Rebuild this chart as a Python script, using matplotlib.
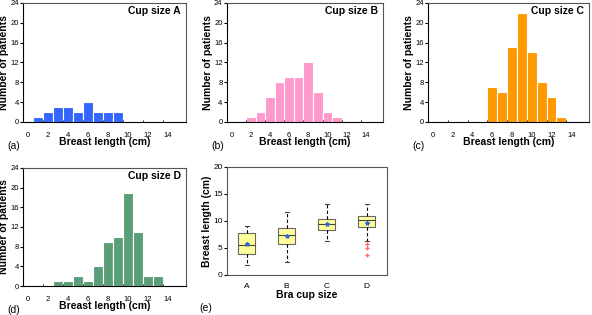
import numpy as np
import matplotlib
matplotlib.use('Agg')
import matplotlib.pyplot as plt

plt.rcParams['font.family'] = ['Liberation Sans', 'DejaVu Sans']

# histogram data (bin centres in cm, counts)
lengthsA = [1, 2, 3, 4, 5, 6, 7, 8, 9]
countsA = [1, 2, 3, 3, 2, 4, 2, 2, 2]
lengthsB = [2, 3, 4, 5, 6, 7, 8, 9, 10, 11]
countsB = [1, 2, 5, 8, 9, 9, 12, 6, 2, 1]
lengthsC = [6, 7, 8, 9, 10, 11, 12, 13]
countsC = [7, 6, 15, 22, 14, 8, 5, 1]
lengthsD = [3, 4, 5, 6, 7, 8, 9, 10, 11, 12, 13]
countsD = [1, 1, 2, 1, 4, 9, 10, 19, 11, 2, 2]

# box plot data
cupSizes = ['A', 'B', 'C', 'D']
whiskLow = [1.9, 2.4, 6.3, 6.3]
q1 = [3.9, 5.8, 8.4, 8.8]
medians = [5.5, 7.4, 9.4, 10.1]
q3 = [7.7, 8.7, 10.3, 11.0]
whiskHigh = [9.0, 11.6, 13.1, 13.1]
means = [5.7, 7.2, 9.4, 9.7]
outliers = [[], [], [], [5.7, 5.0, 3.7]]

fig = plt.figure(figsize=(5.92, 3.15), dpi=100)

def histPanel(pos, x, y, color, title, tag):
    ax = fig.add_axes(pos)
    ax.bar(x, y, width=1.0, color=color, edgecolor='white', linewidth=0.8)
    ax.set_xlim(-0.5, 15.8)
    ax.set_ylim(0, 24)
    ax.set_yticks(np.arange(0, 25, 4))
    ax.set_xticks(np.arange(0, 15, 2))
    ax.set_xticks(np.arange(1.5, 15, 2), minor=True)
    ax.tick_params(axis='x', which='major', length=0, pad=7, labelsize=5.5)
    ax.tick_params(axis='x', which='minor', length=1.5, direction='in')
    ax.tick_params(axis='y', length=2, pad=1, labelsize=5.5)
    for s in ax.spines.values():
        s.set_linewidth(0.8)
        s.set_color('#555555')
    ax.spines['left'].set_color('black')
    ax.spines['bottom'].set_color('black')
    ax.set_xlabel('Breast length (cm)', fontsize=7.5, fontweight='bold', labelpad=-1)
    ax.set_ylabel('Number of patients', fontsize=7.5, fontweight='bold', labelpad=1)
    ax.text(0.97, 0.93, title, transform=ax.transAxes, ha='right', va='center',
            fontsize=7.5, fontweight='bold')
    ax.text(-0.06, -0.2, tag, transform=ax.transAxes, ha='center', va='center', fontsize=7.5)
    return ax

histPanel([0.039, 0.613, 0.275, 0.378], lengthsA, countsA, '#3366ff', 'Cup size A', '(a)')
histPanel([0.383, 0.613, 0.264, 0.378], lengthsB, countsB, '#ff99cc', 'Cup size B', '(b)')
histPanel([0.723, 0.613, 0.272, 0.378], lengthsC, countsC, '#ff9900', 'Cup size C', '(c)')
histPanel([0.039, 0.092, 0.275, 0.375], lengthsD, countsD, '#5a9e78', 'Cup size D', '(d)')

ax = fig.add_axes([0.383, 0.127, 0.270, 0.343])
stats = []
for i in range(len(cupSizes)):
    stats.append(dict(label=cupSizes[i], whislo=whiskLow[i], q1=q1[i], med=medians[i],
                      q3=q3[i], whishi=whiskHigh[i], mean=means[i], fliers=outliers[i]))
ax.bxp(stats, widths=0.42, patch_artist=True, showmeans=True,
       boxprops=dict(facecolor='#ffff99', edgecolor='#666666', linewidth=0.8),
       medianprops=dict(color='#444444', linewidth=0.8),
       whiskerprops=dict(color='black', linestyle=(0, (3, 2)), linewidth=0.8),
       capprops=dict(color='#444444', linewidth=0.8),
       capwidths=0.1,
       meanprops=dict(marker='*', markerfacecolor='#3366cc', markeredgecolor='#3366cc', markersize=3),
       flierprops=dict(marker='+', markeredgecolor='#ff6666', markersize=3, linestyle='none'))
ax.set_ylim(0, 20)
ax.set_xlim(0.5, 4.5)
ax.set_yticks([0, 5, 10, 15, 20])
ax.tick_params(axis='x', length=0, pad=6, labelsize=6)
ax.tick_params(axis='y', length=2, pad=1, labelsize=6)
for s in ax.spines.values():
    s.set_linewidth(0.8)
    s.set_color('#555555')
ax.set_xlabel('Bra cup size', fontsize=7.5, fontweight='bold', labelpad=0)
ax.set_ylabel('Breast length (cm)', fontsize=7.5, fontweight='bold', labelpad=1)
ax.text(-0.13, -0.31, '(e)', transform=ax.transAxes, ha='center', va='center', fontsize=7.5)

fig.savefig('out.png', dpi=100)
